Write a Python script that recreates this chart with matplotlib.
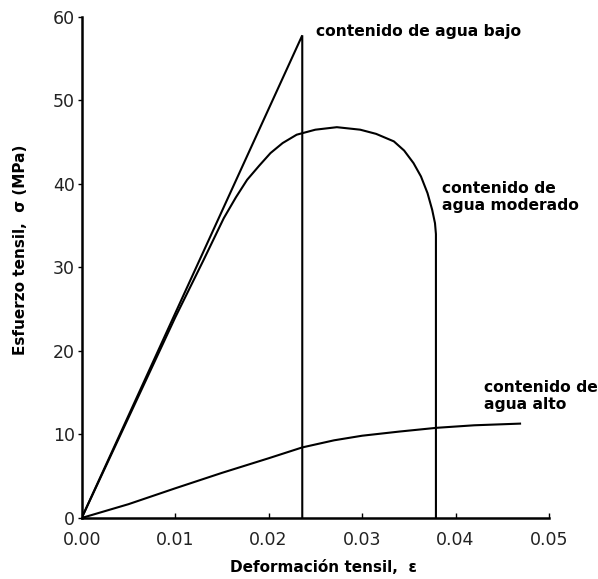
import matplotlib
matplotlib.use("Agg")
import matplotlib.pyplot as plt

# Data (strain, stress in MPa)
strain_low = [0.0, 0.0236, 0.0236]
stress_low = [0.0, 57.8, 0.0]

strain_mod = [0.0, 0.005, 0.010, 0.013, 0.0152, 0.0165, 0.0177, 0.0190, 0.0202,
              0.0215, 0.0230, 0.0250, 0.0273, 0.0298, 0.0315, 0.0334, 0.0345,
              0.0355, 0.0363, 0.0370, 0.0375, 0.0378, 0.0379, 0.0379]
stress_mod = [0.0, 12.0, 24.0, 30.8, 35.9, 38.4, 40.5, 42.2, 43.7,
              44.9, 45.9, 46.5, 46.8, 46.5, 46.0, 45.1, 44.0,
              42.5, 40.9, 38.9, 36.9, 35.3, 34.0, 0.0]

strain_high = [0.0, 0.005, 0.010, 0.015, 0.020, 0.0236, 0.027, 0.030, 0.034,
               0.038, 0.042, 0.0469]
stress_high = [0.0, 1.65, 3.55, 5.4, 7.15, 8.45, 9.3, 9.85, 10.35,
               10.8, 11.1, 11.3]

x_ticks = [0.00, 0.01, 0.02, 0.03, 0.04, 0.05]
x_tick_labels = ["0.00", "0.01", "0.02", "0.03", "0.04", "0.05"]
y_ticks = [0, 10, 20, 30, 40, 50, 60]
y_tick_labels = ["0", "10", "20", "30", "40", "50", "60"]

labels = ["contenido de agua bajo", "contenido de\nagua moderado", "contenido de\nagua alto"]
label_pos = [(0.02509, 58.2), (0.03854, 38.4), (0.0430, 14.6)]

fig = plt.figure(figsize=(5.98, 5.79), dpi=100)
ax = fig.add_axes([0.1366, 0.1054, 0.7815, 0.8653])

lw = 1.5
ax.plot(strain_low, stress_low, color="black", lw=lw, solid_joinstyle="miter")
ax.plot(strain_mod, stress_mod, color="black", lw=lw)
ax.plot(strain_high, stress_high, color="black", lw=lw)

ax.set_xlim(0, 0.05)
ax.set_ylim(0, 60)
for s in ["top", "right"]:
    ax.spines[s].set_visible(False)
for s in ["left", "bottom"]:
    ax.spines[s].set_linewidth(1.8)

ax.set_xticks(x_ticks)
ax.set_xticklabels(x_tick_labels)
ax.set_yticks(y_ticks)
ax.set_yticklabels(y_tick_labels)
ax.tick_params(axis="x", direction="in", length=3.5, width=1, pad=9.5,
               labelsize=12.5, labelcolor="#222222")
ax.tick_params(axis="y", direction="out", length=3, width=1, pad=2,
               labelsize=12.5, labelcolor="#222222")

for txt, (x, y) in zip(labels, label_pos):
    ax.text(x, y, txt, ha="left", va="center", fontsize=11.2,
            fontweight="bold", family="DejaVu Sans", linespacing=1.15)

fig.text(21 / 598, 1 - 250 / 579, "Esfuerzo tensil,  σ (MPa)", rotation=90,
         ha="center", va="center", fontsize=11, fontweight="bold")
fig.text(323 / 598, 1 - 567 / 579, "Deformación tensil,  ε",
         ha="center", va="center", fontsize=11, fontweight="bold")

fig.savefig("out.png", dpi=100)
